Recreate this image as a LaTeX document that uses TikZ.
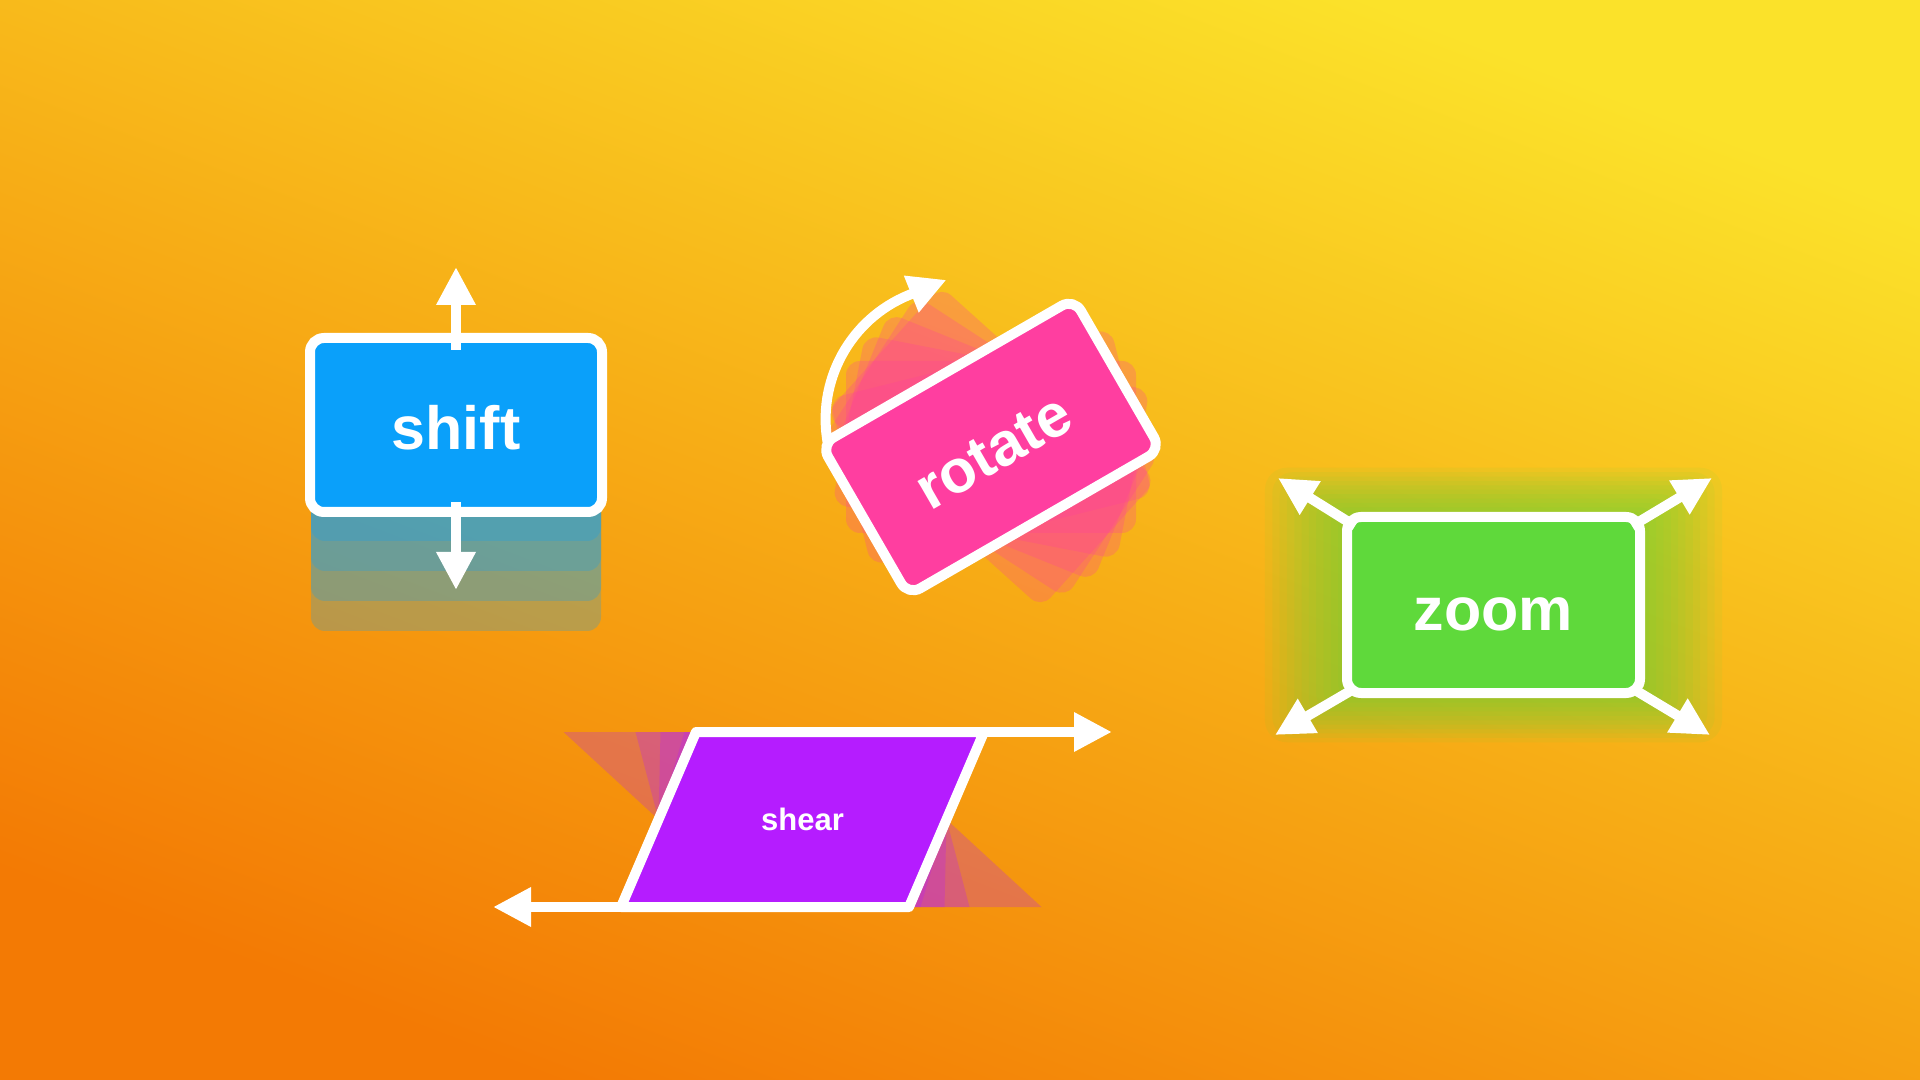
\documentclass[tikz,border=0pt]{standalone}
\usepackage{fontspec}
\setmainfont{Liberation Sans}
\usetikzlibrary{arrows.meta,calc}
\definecolor{bgA}{RGB}{243,122,4}
\definecolor{bgB}{RGB}{247,173,22}
\definecolor{bgC}{RGB}{251,226,42}
\definecolor{shiftblue}{RGB}{10,160,250}
\definecolor{rotpink}{RGB}{255,62,160}
\definecolor{zoomgreen}{RGB}{95,217,59}
\definecolor{shearpurple}{RGB}{181,28,255}
\pgfdeclarehorizontalshading{bgshade}{100bp}{color(0bp)=(bgA); color(25bp)=(bgA); color(50bp)=(bgB); color(75bp)=(bgC); color(100bp)=(bgC)}
\begin{document}
\begin{tikzpicture}[x=0.25pt,y=0.25pt,
  card/.style={draw=white, line width=2.5pt, rounded corners=3.5pt, minimum width=73pt, minimum height=43.5pt, inner sep=0pt, outer sep=0pt, text=white, font=\fontsize{15.25pt}{15.25pt}\selectfont\bfseries, text height=12.5pt, text depth=0pt},
  ghost/.style={draw=none, rounded corners=3.5pt, minimum width=72.5pt, minimum height=43pt, inner sep=0pt, outer sep=0pt},
  warrow/.style={draw=white, line width=2.5pt, -{Triangle[width=9.25pt,length=9.5pt]}},
  sheartext/.style={text=white, font=\fontsize{7.75pt}{7.75pt}\selectfont\bfseries, inner sep=0pt},
]
\useasboundingbox (0,0) rectangle (1920,-1080);
\shade[shading=bgshade, shading angle=69] (0,0) rectangle (1920,-1080);

% ---------- shift ----------
\foreach \k in {1,2,3,4}{
  \node[ghost, fill=shiftblue, fill opacity=0.25] (sg\k) at (456,-425-30*\k) {};
}
\node[card, fill=shiftblue] (shift) at (456,-425) {shift};
\coordinate (shiftUp) at (456,-267);
\coordinate (shiftDown) at (456,-590);
\draw[warrow] ($(shift.north)+(0,-12)$) -- (shiftUp);
\draw[warrow] ($(shift.south)+(0,10)$) -- (shiftDown);

% ---------- rotate ----------
\foreach \a [count=\i] in {-42,-33,-22,-11,0,14}{
  \node[ghost, fill=rotpink, fill opacity=0.25, rotate=\a] (rg\i) at (991,-447) {};
}
\node[card, fill=rotpink, rotate=30] (rot) at (991,-447) {rotate};
\coordinate (arcS) at ($(rot.north west)+(7,0)$);
\draw[warrow] (arcS) arc[start angle=191, end angle=112, radius=134] -- ++(22:10pt);

% ---------- zoom ----------
\foreach \s [count=\i] in {1.56,1.51,1.46,1.41,1.36,1.31,1.26,1.21,1.16,1.11,1.06}{
  \node[ghost, fill=zoomgreen, fill opacity=0.075, minimum width=73.25*\s pt, minimum height=44*\s pt, rounded corners=3.5*\s pt] (zg\i) at (1493.5,-605) {};
}
\node[card, fill=zoomgreen, minimum width=73.25pt, minimum height=44pt] (zoom) at (1493.5,-605) {zoom};
\coordinate (zTL) at (1278,-478);
\coordinate (zTR) at (1712,-478);
\coordinate (zBL) at (1275,-735);
\coordinate (zBR) at (1710,-735);
\draw[warrow] ($(zoom.north west)+(8,-9)$) -- (zTL);
\draw[warrow] ($(zoom.north east)+(-8,-9)$) -- (zTR);
\draw[warrow] ($(zoom.south west)+(5,3)$) -- (zBL);
\draw[warrow] ($(zoom.south east)+(-5,3)$) -- (zBR);

% ---------- shear ----------
\foreach \s in {-95,-23,2,26}{
  \fill[shearpurple, fill opacity=0.25] (658.5+\s,-732) -- (946.5+\s,-732) -- (946.5-\s,-907) -- (658.5-\s,-907) -- cycle;
}
\coordinate (sTL) at (696,-732);
\coordinate (sTR) at (984,-732);
\coordinate (sBR) at (909,-907);
\coordinate (sBL) at (621,-907);
\filldraw[fill=shearpurple, draw=white, line width=2.5pt, line join=round] (sTL) -- (sTR) -- (sBR) -- (sBL) -- cycle;
\node[sheartext] (shear) at (802.5,-819.5) {shear};
\coordinate (shearR) at (1112,-732);
\coordinate (shearL) at (493,-907);
\draw[warrow] (sTR) -- (shearR);
\draw[warrow] (sBL) -- (shearL);
\end{tikzpicture}
\end{document}
